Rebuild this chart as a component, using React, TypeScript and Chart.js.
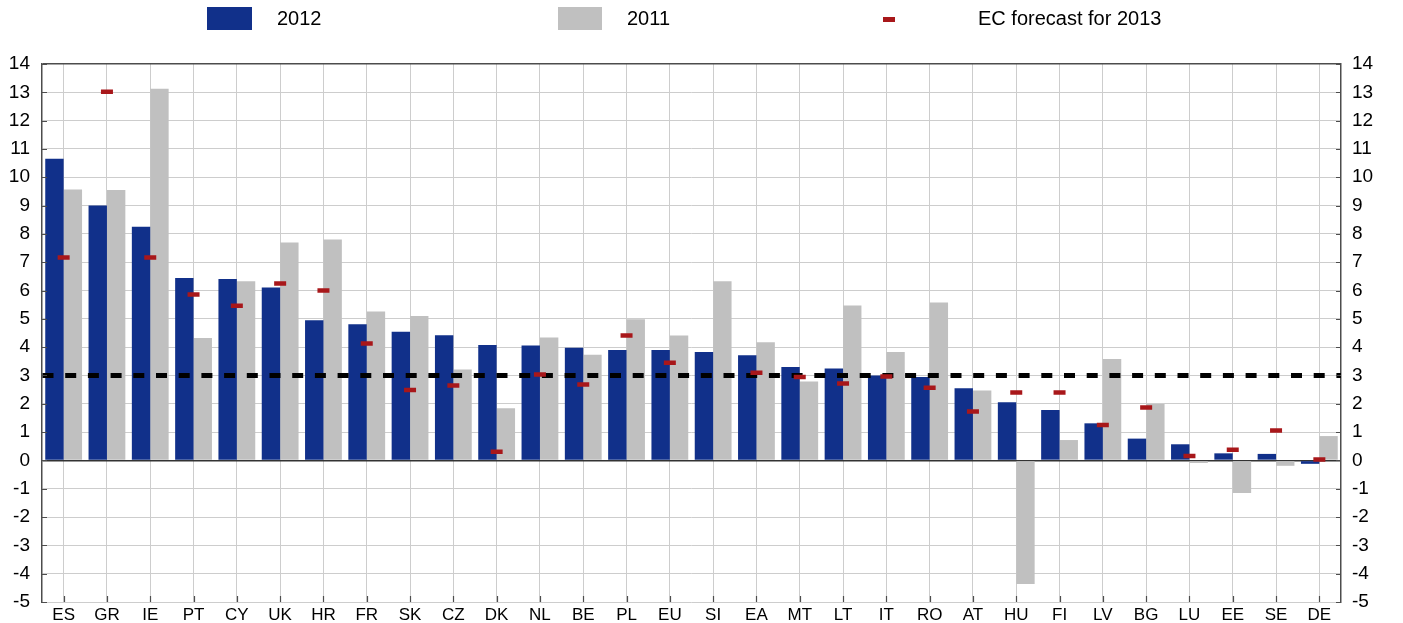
import React, { useEffect, useRef } from 'react';
import { Chart, registerables } from 'chart.js';

Chart.register(...registerables);

const FONT = '"Liberation Sans", Arial, Helvetica, sans-serif';

const categories = ['ES', 'GR', 'IE', 'PT', 'CY', 'UK', 'HR', 'FR', 'SK', 'CZ', 'DK', 'NL', 'BE', 'PL', 'EU', 'SI', 'EA', 'MT', 'LT', 'IT', 'RO', 'AT', 'HU', 'FI', 'LV', 'BG', 'LU', 'EE', 'SE', 'DE'];

const values2012 = [10.65, 9.0, 8.25, 6.44, 6.41, 6.11, 4.95, 4.81, 4.54, 4.42, 4.08, 4.06, 3.98, 3.9, 3.9, 3.83, 3.71, 3.3, 3.25, 3.0, 2.95, 2.55, 2.05, 1.78, 1.31, 0.77, 0.57, 0.25, 0.23, -0.12];

const values2011 = [9.57, 9.55, 13.13, 4.32, 6.33, 7.7, 7.8, 5.26, 5.1, 3.21, 1.84, 4.34, 3.73, 4.99, 4.41, 6.33, 4.17, 2.79, 5.47, 3.83, 5.58, 2.47, -4.36, 0.72, 3.58, 1.99, -0.09, -1.15, -0.19, 0.86];

const forecast2013 = [7.17, 13.02, 7.17, 5.86, 5.46, 6.25, 6.0, 4.13, 2.49, 2.65, 0.31, 3.03, 2.68, 4.41, 3.45, null, 3.1, 2.95, 2.72, 2.96, 2.57, 1.73, 2.4, 2.4, 1.25, 1.87, 0.16, 0.38, 1.06, 0.03];

const THRESHOLD = 3;
const Y_MIN = -5;
const Y_MAX = 14;

const BLUE = '#11308a';
const GREY = '#c0c0c0';
const RED = '#a8171a';
const AXIS = '#4d4d4d';
const GRID = '#cdcdcd';

const framePlugin = {
  id: 'frame',
  beforeDatasetDraw(chart: any, args: any) {
    if (args.index !== 2) return;
    const { ctx, chartArea } = chart;
    const y = chart.scales.y.getPixelForValue(THRESHOLD);
    ctx.save();
    ctx.strokeStyle = '#000';
    ctx.lineWidth = 5;
    ctx.setLineDash([11, 11.7]);
    ctx.beginPath();
    ctx.moveTo(chartArea.left + 0.5, y);
    ctx.lineTo(chartArea.right, y);
    ctx.stroke();
    ctx.restore();
  },
  afterDraw(chart: any) {
    const { ctx, chartArea } = chart;
    const ys = chart.scales.y;
    const xs = chart.scales.x;
    ctx.save();
    ctx.strokeStyle = AXIS;
    ctx.lineWidth = 1.2;
    ctx.beginPath();
    ys.ticks.forEach((t: any) => {
      const py = Math.round(ys.getPixelForValue(t.value)) + 0.5;
      ctx.moveTo(chartArea.left, py);
      ctx.lineTo(chartArea.left + 5, py);
      ctx.moveTo(chartArea.right - 5, py);
      ctx.lineTo(chartArea.right, py);
    });
    categories.forEach((_, i) => {
      const px = Math.round(xs.getPixelForValue(i)) + 0.5;
      ctx.moveTo(px, chartArea.bottom);
      ctx.lineTo(px, chartArea.bottom - 6);
    });
    ctx.stroke();
    ctx.restore();
  },
};

export default function App() {
  const ref = useRef<HTMLCanvasElement>(null);

  useEffect(() => {
    const prev = document.body.style.margin;
    document.body.style.margin = '0';
    const tickFont = { family: FONT, size: 19 };
    const fitY = (w: number) => (s: any) => {
      s.width = w;
      s.paddingTop = 0;
      s.paddingBottom = 0;
    };
    const chart = new Chart(ref.current as HTMLCanvasElement, {
      type: 'bar',
      data: {
        labels: categories,
        datasets: [
          {
            type: 'bar',
            label: '2012',
            data: values2012,
            backgroundColor: BLUE,
            borderWidth: 0,
            order: 1,
            yAxisID: 'y',
            categoryPercentage: 0.85,
            barPercentage: 1.0,
          },
          {
            type: 'bar',
            label: '2011',
            data: values2011,
            backgroundColor: GREY,
            borderWidth: 0,
            order: 2,
            yAxisID: 'y',
            categoryPercentage: 0.85,
            barPercentage: 1.0,
          },
          {
            type: 'line',
            label: 'EC forecast for 2013',
            data: forecast2013,
            showLine: false,
            pointStyle: 'line',
            pointRadius: 6,
            pointHoverRadius: 6,
            pointBorderWidth: 4.5,
            borderColor: RED,
            backgroundColor: RED,
            order: 0,
            yAxisID: 'y',
          } as any,
        ],
      },
      options: {
        responsive: false,
        animation: false,
        layout: { padding: { top: 64, left: 0, right: 0, bottom: 0 } },
        plugins: { legend: { display: false }, tooltip: { enabled: false } },
        scales: {
          x: {
            type: 'category',
            offset: true,
            grid: { offset: false, color: GRID, lineWidth: 1, drawTicks: false },
            border: { display: false },
            ticks: { font: { family: FONT, size: 17 }, color: '#000', padding: 3, autoSkip: false, maxRotation: 0 },
            afterFit: (s: any) => {
              s.height = 21;
              s.paddingLeft = 0;
              s.paddingRight = 0;
            },
          },
          y: {
            position: 'left',
            min: Y_MIN,
            max: Y_MAX,
            ticks: { stepSize: 1, font: tickFont, color: '#000', padding: 12, autoSkip: false },
            grid: {
              drawTicks: false,
              color: (c: any) => (c.tick && c.tick.value === 0 ? '#333' : c.tick && c.tick.value === Y_MAX ? AXIS : GRID),
              lineWidth: (c: any) => (c.tick && (c.tick.value === 0 || c.tick.value === Y_MAX) ? 1.5 : 1),
            },
            border: { display: true, color: AXIS, width: 1.5 },
            afterFit: fitY(42),
          },
          y2: {
            position: 'right',
            min: Y_MIN,
            max: Y_MAX,
            ticks: { stepSize: 1, font: tickFont, color: '#000', padding: 11, autoSkip: false },
            grid: { drawOnChartArea: false, drawTicks: false },
            border: { display: true, color: AXIS, width: 1.5 },
            afterFit: fitY(62),
          },
        },
      },
      plugins: [framePlugin],
    } as any);
    return () => {
      chart.destroy();
      document.body.style.margin = prev;
    };
  }, []);

  const text: React.CSSProperties = {
    position: 'absolute',
    top: 7,
    height: 23,
    lineHeight: '23px',
    fontSize: 20,
    fontFamily: FONT,
    color: '#000',
    whiteSpace: 'nowrap',
  };

  return (
    <div style={{ position: 'relative', width: 1403, height: 623 }}>
      <canvas ref={ref} width={1403} height={623} style={{ display: 'block', width: 1403, height: 623 }} />
      <div style={{ position: 'absolute', left: 207, top: 7, width: 45, height: 23, background: BLUE }} />
      <div style={{ ...text, left: 277 }}>2012</div>
      <div style={{ position: 'absolute', left: 558, top: 7, width: 44, height: 23, background: GREY }} />
      <div style={{ ...text, left: 627 }}>2011</div>
      <div style={{ position: 'absolute', left: 883, top: 17, width: 12, height: 4.5, background: RED }} />
      <div style={{ ...text, left: 978 }}>EC forecast for 2013</div>
    </div>
  );
}
